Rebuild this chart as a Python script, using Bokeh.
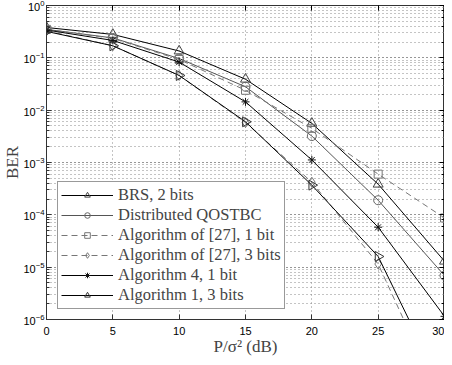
from bokeh.plotting import figure
from bokeh.models import (FixedTicker, LogTicker, LogAxis, LinearAxis, Legend, LegendItem,
                          Range1d, CustomJSTickFormatter, ColumnDataSource)
from bokeh.embed import file_html
from bokeh.resources import INLINE
import math

snr = [0, 5, 10, 15, 20, 25, 30]
brs_2bits = [0.38, 0.28, 0.135, 0.039, 5.6e-3, 3.85e-4, 1.3e-5]
dist_qostbc = [0.35, 0.24, 0.097, 0.028, 3.2e-3, 1.9e-4, 6.9e-6]
alg27_1bit = [0.35, 0.235, 0.093, 0.024, 4.5e-3, 6.0e-4, 8.7e-5]
alg27_3bits = [0.33, 0.17, 0.046, 0.0058, 4.2e-4, 1.15e-5, 2e-8]
alg4_1bit = [0.34, 0.215, 0.083, 0.0144, 1.12e-3, 5.8e-5, 1.15e-6]
alg1_3bits = [0.32, 0.17, 0.046, 0.006, 3.7e-4, 1.6e-5, 4e-8]
labels = ["BRS, 2 bits", "Distributed QOSTBC", "Algorithm of [27], 1 bit",
          "Algorithm of [27], 3 bits", "Algorithm 4, 1 bit", "Algorithm 1, 3 bits"]
x_ticks = [0, 5, 10, 15, 20, 25, 30]

series = [brs_2bits, dist_qostbc, alg27_1bit, alg27_3bits, alg4_1bit, alg1_3bits]
line_colors = ["#000000", "#555555", "#777777", "#777777", "#000000", "#000000"]
marker_colors = ["#444444", "#666666", "#777777", "#777777", "#111111", "#333333"]
dashes = ["solid", "solid", "6 4", "6 4", "solid", "solid"]
markers = ["triangle", "circle", "square", "diamond", "asterisk", "triangle"]
angles = [0, 0, 0, 0, 0, -math.pi / 2]
sizes = [10, 9, 8, 10, 8, 10]

p = figure(frame_width=398, frame_height=314, y_axis_type="log", output_backend="svg",
           toolbar_location=None, x_range=Range1d(0, 30), y_range=Range1d(1e-6, 1),
           min_border_left=0, min_border_right=0, min_border_top=5, min_border_bottom=0)
p.outline_line_color = "#333333"
p.background_fill_color = "white"

items = []
for ys, lc, mc, d, m, a, s, lab in zip(series, line_colors, marker_colors, dashes, markers, angles, sizes, labels):
    src = ColumnDataSource(dict(x=snr, y=ys, ang=[a] * len(snr)))
    r1 = p.line("x", "y", source=src, line_color=lc, line_width=1.0, line_dash=d)
    r2 = p.scatter("x", "y", source=src, marker=m, size=s, angle="ang", line_color=mc,
                   fill_color=None, line_width=1.0)
    items.append(LegendItem(label=lab, renderers=[r1, r2], index=0))

legend = Legend(items=items, location=(11, 10))
legend.label_text_font = "Liberation Serif"
legend.label_text_font_size = "16.5px"
legend.label_height = 14
legend.glyph_height = 14
legend.glyph_width = 52
legend.spacing = 0
legend.padding = 3
legend.margin = 0
legend.label_standoff = 5
legend.border_line_color = "#333333"
legend.border_line_width = 1.2
legend.background_fill_alpha = 1
p.add_layout(legend)

# axes
p.xaxis.ticker = FixedTicker(ticks=x_ticks)
for ax in [p.xaxis[0], p.yaxis[0]]:
    ax.major_tick_in = 5
    ax.major_tick_out = 0
    ax.minor_tick_in = 3
    ax.minor_tick_out = 0
    ax.major_label_text_font = "Liberation Sans"
    ax.major_label_text_font_size = "11px"
    ax.major_label_text_color = "black"
    ax.axis_line_color = "#333333"
    ax.major_tick_line_color = "#333333"
    ax.minor_tick_line_color = "#333333"
p.xaxis.minor_tick_line_color = None
p.xaxis.major_label_standoff = 7
p.yaxis.major_label_standoff = 2

p.xaxis.axis_label = "P/σ² (dB)"
p.xaxis.axis_label_text_font = "Liberation Serif"
p.xaxis.axis_label_text_font_size = "17px"
p.xaxis.axis_label_text_font_style = "normal"
p.xaxis.axis_label_standoff = -1
p.yaxis.axis_label = "BER"
p.yaxis.axis_label_text_font = "Liberation Serif"
p.yaxis.axis_label_text_font_size = "17px"
p.yaxis.axis_label_text_font_style = "normal"
p.yaxis.axis_label_standoff = -2

# mirrored ticks on top and right (no labels)
blank = CustomJSTickFormatter(code="return ''")
top = LinearAxis(ticker=FixedTicker(ticks=x_ticks), formatter=blank, major_tick_in=5, major_tick_out=0,
                 minor_tick_line_color=None, major_label_text_font_size="1px",
                 major_label_standoff=0, axis_line_color="#333333")
right = LogAxis(ticker=LogTicker(), formatter=blank, major_tick_in=5, major_tick_out=0, minor_tick_in=3,
                minor_tick_out=0, major_label_text_font_size="1px", major_label_standoff=0,
                axis_line_color="#333333")
p.add_layout(top, "above")
p.add_layout(right, "right")

# grids
p.xgrid.grid_line_color = "#888888"
p.xgrid.grid_line_dash = "1 3"
p.ygrid.grid_line_color = "#888888"
p.ygrid.grid_line_dash = "1 3"
p.ygrid.minor_grid_line_color = "#888888"
p.ygrid.minor_grid_line_dash = "1 3"

open("out.html", "w").write(file_html(p, INLINE))
